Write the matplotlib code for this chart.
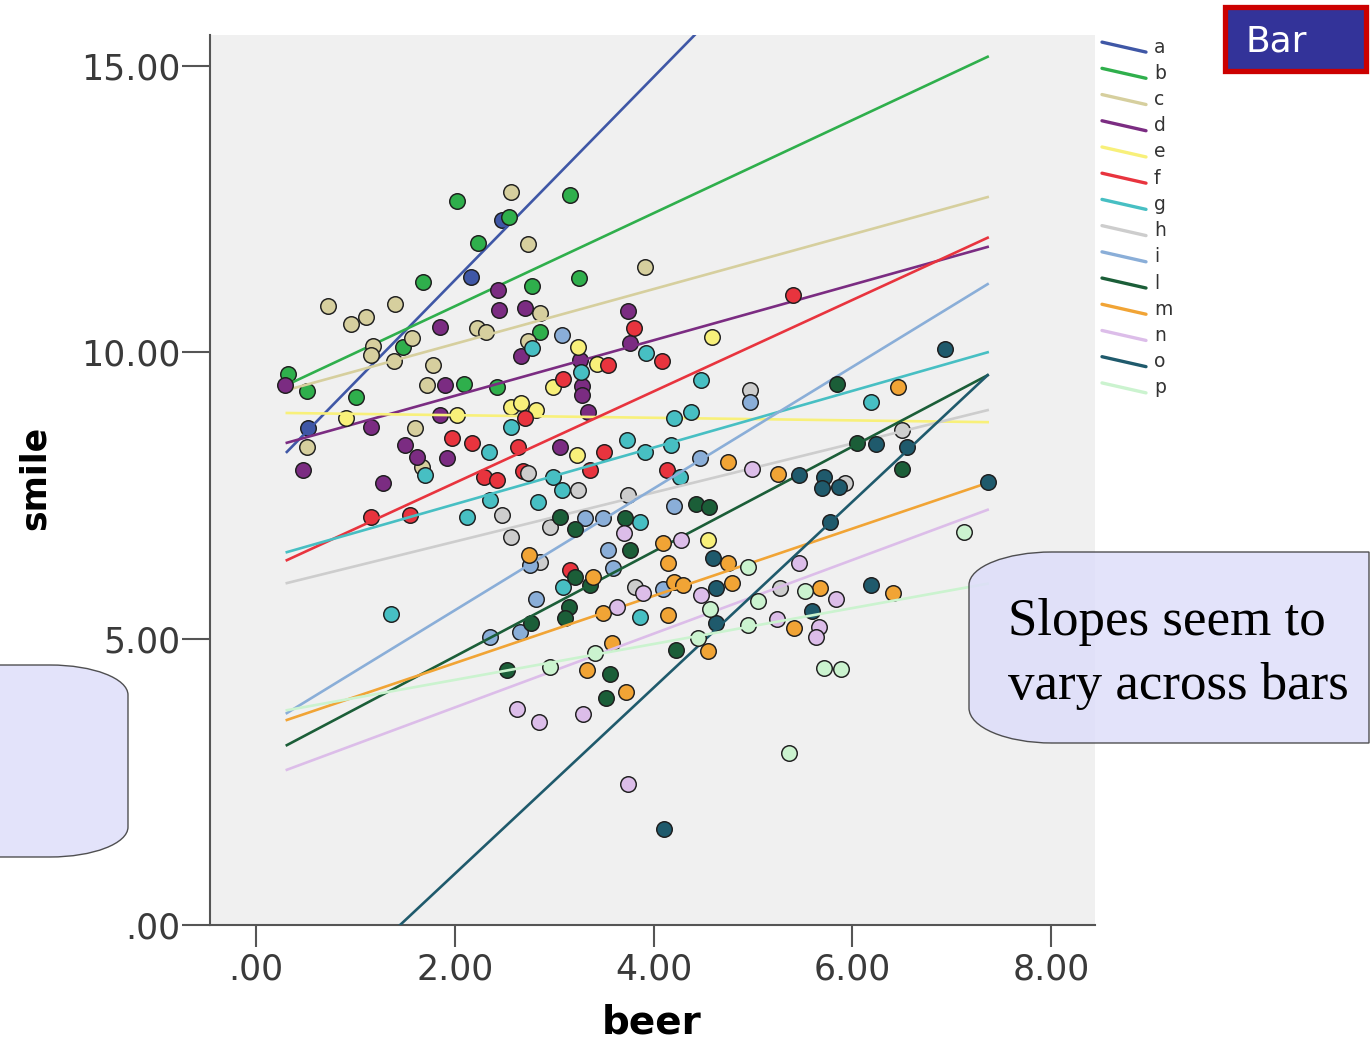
import numpy as np
import matplotlib
matplotlib.use("Agg")
import matplotlib.pyplot as plt
from matplotlib.path import Path
from matplotlib.patches import PathPatch, Rectangle

# group labels and colours (SPSS style palette)
groups = ["a", "b", "c", "d", "e", "f", "g", "h", "i", "l", "m", "n", "o", "p"]
colors = ["#3F57A6", "#2FAF4C", "#D6CF9E", "#7B2C82", "#F8F07A", "#E8343E", "#47BFC3",
          "#CDCDCD", "#8AAED8", "#1B5E38", "#F1A435", "#DCBDE9", "#1F5A6C", "#CBF3CF"]

# scatter points per group (beer, smile)
a_x = [2.47, 2.16, 0.52]
a_y = [12.31, 11.31, 8.68]
b_x = [2.02, 3.16, 2.54, 2.23, 1.68, 3.25, 2.78, 2.86, 1.48, 0.32, 0.51, 2.09, 2.42, 1.01]
b_y = [12.65, 12.75, 12.37, 11.91, 11.23, 11.30, 11.15, 10.36, 10.10, 9.62, 9.32, 9.45, 9.39, 9.22]
c_x = [2.57, 2.74, 3.91, 0.72, 0.96, 1.11, 1.40, 2.86, 2.22, 2.31, 2.74, 1.18, 1.16, 1.57,
       1.39, 1.78, 1.72, 1.60, 0.51, 1.67]
c_y = [12.79, 11.89, 11.49, 10.81, 10.49, 10.62, 10.84, 10.69, 10.42, 10.36, 10.19, 10.11,
       9.95, 10.25, 9.84, 9.78, 9.43, 8.68, 8.35, 8.00]
d_x = [2.43, 2.44, 2.71, 3.74, 1.85, 2.67, 3.76, 3.26, 0.29, 1.90, 3.28, 3.28, 3.34, 1.85,
       1.16, 0.47, 1.50, 1.62, 1.92, 3.06, 1.28]
d_y = [11.08, 10.73, 10.77, 10.72, 10.45, 9.94, 10.17, 9.87, 9.43, 9.43, 9.41, 9.25, 8.96,
       8.91, 8.70, 7.94, 8.38, 8.18, 8.15, 8.35, 7.71]
e_x = [3.24, 3.43, 2.99, 0.91, 2.02, 2.56, 2.67, 2.82, 3.23, 4.59, 4.55]
e_y = [10.10, 9.80, 9.40, 8.85, 8.91, 9.05, 9.11, 8.99, 8.21, 10.26, 6.72]
f_x = [3.80, 4.08, 3.54, 3.09, 2.71, 1.97, 2.17, 2.64, 3.50, 2.29, 2.42, 2.69, 3.36, 4.13,
       1.16, 1.55, 3.16, 5.40]
f_y = [10.43, 9.85, 9.77, 9.53, 8.85, 8.50, 8.41, 8.35, 8.26, 7.83, 7.77, 7.92, 7.94, 7.94,
       7.13, 7.16, 6.20, 11.00]
g_x = [2.78, 3.92, 3.27, 2.56, 1.70, 2.34, 3.73, 3.91, 4.17, 2.99, 3.08, 2.12, 2.35, 2.84,
       3.86, 3.09, 1.36, 3.86, 4.48, 4.20, 4.38, 6.19, 4.27]
g_y = [10.08, 9.99, 9.66, 8.70, 7.85, 8.26, 8.47, 8.26, 8.38, 7.83, 7.60, 7.13, 7.42, 7.39,
       7.04, 5.91, 5.43, 5.38, 9.52, 8.85, 8.96, 9.13, 7.83]
h_x = [2.74, 3.24, 2.47, 2.56, 3.74, 2.96, 2.86, 3.81, 4.97, 5.93, 6.50, 5.27]
h_y = [7.89, 7.60, 7.16, 6.78, 7.51, 6.95, 6.33, 5.90, 9.34, 7.71, 8.64, 5.88]
i_x = [3.08, 3.31, 3.49, 3.54, 3.59, 2.76, 4.09, 2.82, 2.66, 2.35, 4.97, 4.47, 4.20]
i_y = [10.30, 7.11, 7.11, 6.54, 6.23, 6.29, 5.87, 5.70, 5.12, 5.03, 9.14, 8.15, 7.32]
l_x = [3.06, 3.21, 3.71, 3.76, 3.21, 3.36, 3.15, 3.11, 2.77, 2.52, 3.56, 3.52, 4.22, 5.84,
       6.05, 6.50, 4.43, 4.56]
l_y = [7.13, 6.91, 7.11, 6.55, 6.08, 5.94, 5.56, 5.36, 5.27, 4.45, 4.38, 3.96, 4.80, 9.45,
       8.41, 7.97, 7.35, 7.30]
m_x = [2.75, 3.39, 4.09, 4.14, 4.20, 3.49, 4.14, 3.58, 3.33, 3.72, 6.46, 4.75, 5.25, 4.75,
       4.30, 4.79, 5.67, 6.41, 5.41, 4.55]
m_y = [6.46, 6.08, 6.67, 6.32, 5.99, 5.44, 5.41, 4.92, 4.45, 4.06, 9.39, 8.09, 7.87, 6.32,
       5.94, 5.97, 5.88, 5.79, 5.18, 4.79]
n_x = [3.70, 3.89, 3.63, 2.63, 2.85, 3.29, 3.74, 4.99, 4.28, 5.46, 4.48, 5.83, 5.24, 5.66, 5.63]
n_y = [6.84, 5.80, 5.56, 3.77, 3.55, 3.68, 2.46, 7.96, 6.72, 6.32, 5.76, 5.69, 5.34, 5.21, 5.03]
o_x = [4.10, 6.93, 5.46, 5.71, 5.69, 5.86, 6.24, 6.55, 7.36, 5.77, 4.60, 4.63, 6.19, 4.63, 5.59]
o_y = [1.67, 10.06, 7.86, 7.83, 7.63, 7.64, 8.39, 8.34, 7.74, 7.04, 6.40, 5.88, 5.94, 5.28, 5.49]
p_x = [3.41, 2.96, 4.95, 7.12, 5.52, 4.57, 5.05, 4.95, 4.45, 5.71, 5.88, 5.36]
p_y = [4.75, 4.51, 6.25, 6.87, 5.83, 5.51, 5.65, 5.24, 5.01, 4.49, 4.47, 3.00]

points_x = [a_x, b_x, c_x, d_x, e_x, f_x, g_x, h_x, i_x, l_x, m_x, n_x, o_x, p_x]
points_y = [a_y, b_y, c_y, d_y, e_y, f_y, g_y, h_y, i_y, l_y, m_y, n_y, o_y, p_y]

# fit lines: smile at the start and end of the beer range, per group
fit_x = [0.31, 7.36]
fit_y0 = [8.26, 9.43, 9.34, 8.42, 8.94, 6.37, 6.51, 5.97, 3.70, 3.14, 3.58, 2.71, -1.85, 3.75]
fit_y1 = [20.77, 15.16, 12.71, 11.84, 8.78, 12.00, 10.00, 8.99, 11.19, 9.60, 7.72, 7.25, 9.60, 5.96]

W, H = 1370, 1042
fig = plt.figure(figsize=(W / 100, H / 100), dpi=100)

ax = fig.add_axes([210 / W, (H - 925) / H, (1095 - 210) / W, (925 - 35) / H])
ax.set_facecolor("#F0F0F0")
for k in range(len(groups)):
    ax.scatter(points_x[k], points_y[k], s=125, c=colors[k], edgecolors="#1E1E1E",
               linewidths=1.05, zorder=2 + 2 * k, clip_on=True)
    ax.plot(fit_x, [fit_y0[k], fit_y1[k]], color=colors[k], lw=1.9, zorder=3 + 2 * k)

ax.set_xlim(-0.463, 8.44)
ax.set_ylim(0, 15.54)
ax.set_xticks([0, 2, 4, 6, 8])
ax.set_xticklabels([".00", "2.00", "4.00", "6.00", "8.00"])
ax.set_yticks([0, 5, 10, 15])
ax.set_yticklabels([".00", "5.00", "10.00", "15.00"])
for side in ["top", "right"]:
    ax.spines[side].set_visible(False)
for side in ["left", "bottom"]:
    ax.spines[side].set_color("#555555")
    ax.spines[side].set_linewidth(1.5)
ax.tick_params(axis="both", colors="#555555", width=1.5, labelcolor="#3A3A3A", labelsize=25)
ax.tick_params(axis="x", length=16, pad=4)
ax.tick_params(axis="y", length=20, pad=1)

ax.set_xlabel("beer", fontsize=28, fontweight="bold")
ax.xaxis.label.set_va("center")
ax.xaxis.set_label_coords((652 - 210) / 885, (925 - 1023) / 890)
ax.set_ylabel("smile", fontsize=25, fontweight="bold")
ax.yaxis.label.set_va("center")
ax.yaxis.set_label_coords((35 - 210) / 885, (925 - 478) / 890)

# legend with slanted line samples
leg = fig.add_axes([1095 / W, (H - 401) / H, 100 / W, 367 / H])
leg.set_xlim(0, 100)
leg.set_ylim(len(groups), 0)
leg.axis("off")
for k, g in enumerate(groups):
    yc = k + 0.5
    leg.plot([7, 51], [yc - 0.19, yc + 0.19], color=colors[k], lw=2.4, solid_capstyle="round")
    leg.text(59, yc, g, fontsize=13.5, color="#333333", va="center", ha="left")

# overlay for the slide callouts
ov = fig.add_axes([0, 0, 1, 1], zorder=10)
ov.set_xlim(0, W)
ov.set_ylim(H, 0)
ov.axis("off")

kap = 0.5523
fill = (0.87, 0.87, 0.98)

rx, x0, x1, y0, y1 = 83, 969, 1369, 552, 743
verts = [(x0 + rx, y0), (x1, y0), (x1, y1), (x0 + rx, y1),
         (x0 + rx - kap * rx, y1), (x0, y1 - 35 + kap * 35), (x0, y1 - 35),
         (x0, y0 + 33),
         (x0, y0 + 33 - kap * 33), (x0 + rx - kap * rx, y0), (x0 + rx, y0),
         (x0 + rx, y0)]
codes = [Path.MOVETO, Path.LINETO, Path.LINETO, Path.LINETO,
         Path.CURVE4, Path.CURVE4, Path.CURVE4,
         Path.LINETO,
         Path.CURVE4, Path.CURVE4, Path.CURVE4,
         Path.CLOSEPOLY]
ov.add_patch(PathPatch(Path(verts, codes), facecolor=fill, alpha=0.85,
                       edgecolor="#333333", lw=1.0))
ov.text(1008, 622, "Slopes seem to", family="Liberation Serif", fontsize=38.2,
        color="black", va="center", ha="left")
ov.text(1008, 686, "vary across bars", family="Liberation Serif", fontsize=38.2,
        color="black", va="center", ha="left")

rx, x1, y0, y1 = 78, 128, 665, 857
verts = [(-2, y0), (x1 - rx, y0),
         (x1 - rx + kap * rx, y0), (x1, y0 + 30 - kap * 30), (x1, y0 + 30),
         (x1, y1 - 30),
         (x1, y1 - 30 + kap * 30), (x1 - rx + kap * rx, y1), (x1 - rx, y1),
         (-2, y1), (-2, y0)]
codes = [Path.MOVETO, Path.LINETO,
         Path.CURVE4, Path.CURVE4, Path.CURVE4,
         Path.LINETO,
         Path.CURVE4, Path.CURVE4, Path.CURVE4,
         Path.LINETO, Path.CLOSEPOLY]
ov.add_patch(PathPatch(Path(verts, codes), facecolor=fill, alpha=0.85,
                       edgecolor="#333333", lw=1.0))

# "Bar" tag top right
ov.add_patch(Rectangle((1225, 7), 141, 64, facecolor="#333399", edgecolor="#CC0000", lw=3.8))
ov.text(1246, 41, "Bar", fontsize=26, color="white", va="center", ha="left")

fig.savefig("out.png", dpi=100)
